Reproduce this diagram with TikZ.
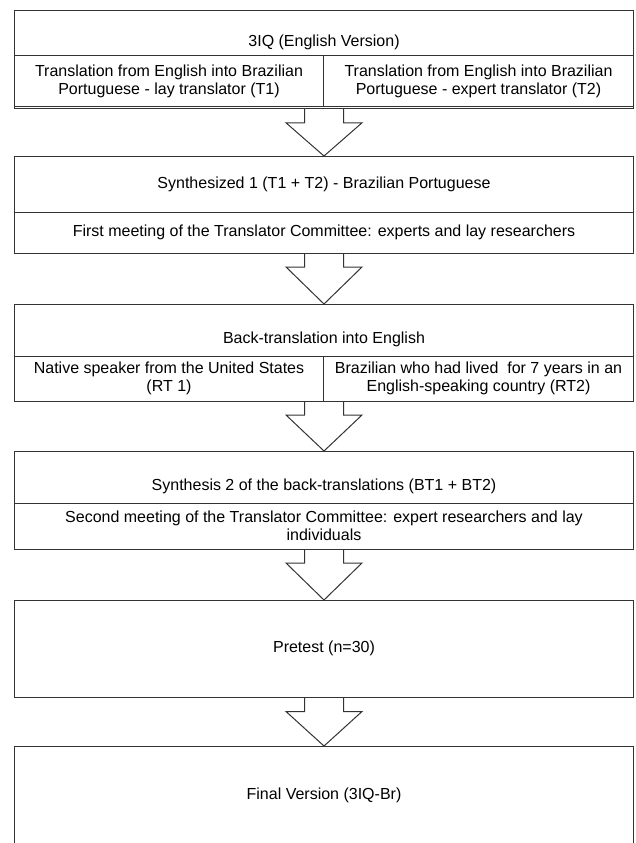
\documentclass[tikz,border=0pt]{standalone}
\usepackage{fontspec}
\setmainfont{Liberation Sans}
\usetikzlibrary{calc}
\usetikzlibrary{positioning}
\tikzset{stagebox/.style = {draw=black!80, line width=1pt, rectangle, inner sep=0pt, outer sep=0pt, minimum width=619pt, align=center, font=\fontsize{16pt}{17.5pt}\selectfont}}
\tikzset{cellbox/.style = {stagebox, minimum width=309pt}}
\tikzset{lowtext/.style = {text height=30pt, text depth=4pt}}
\tikzset{arrowline/.style = {draw=black!80, line width=1pt, line join=miter}}
\newcommand{\flowarrow}[2]{%
  \draw[arrowline] ($(#2.north |- #1)+(-19.5,0)$) -- ++(0,14) -- ++(-18.5,0)
    -- (#2.north) -- ($(#2.north |- #1)+(38,14)$) -- ++(-18.5,0) -- ++(0,-14);}

\begin{document}
\begin{tikzpicture}[x=1pt,y=-1pt]
        \useasboundingbox (0,0) rectangle (635,843);
        \node [stagebox, lowtext, anchor=north, minimum height=45.5pt] (engl) at (324,10.5) {3IQ (English Version)};
        \node [cellbox, anchor=north west, minimum height=50.5pt] (tr1) at (engl.south west) {Translation from English into Brazilian\\Portuguese - lay translator (T1)};
        \node [cellbox, anchor=north west, minimum width=310pt, minimum height=50.5pt] (tr2) at (tr1.north east) {Translation from English into Brazilian\\Portuguese - expert translator (T2)};
        \coordinate (engl-end) at ($(tr2.south)+(0,2.3)$);
        \draw [arrowline] (engl.north west) rectangle (tr2.south east |- engl-end);

        \node [stagebox, anchor=north, minimum height=56pt] (syn1) at (324,156) {Synthesized 1 (T1 + T2) - Brazilian Portuguese};
        \node [stagebox, anchor=north, minimum height=41pt] (meet1) at (syn1.south) {First meeting of the Translator Committee: experts and lay researchers};

        \node [stagebox, lowtext, anchor=north, minimum height=52pt] (back) at (324,304) {Back-translation into English};
        \node [cellbox, anchor=north west, minimum height=45pt] (rt1) at (back.south west) {Native speaker from the United States\\(RT 1)};
        \node [cellbox, anchor=north west, minimum width=310pt, minimum height=45pt] (rt2) at (rt1.north east) {Brazilian who had lived\ \ for 7 years in an\\English-speaking country (RT2)};

        \node [stagebox, lowtext, anchor=north, minimum height=52pt] (syn2) at (324,451) {Synthesis 2 of the back-translations (BT1 + BT2)};
        \node [stagebox, anchor=north, minimum height=46pt] (meet2) at (syn2.south) {Second meeting of the Translator Committee: expert researchers and lay\\individuals};

        \node [stagebox, anchor=north, minimum height=97.5pt] (pre) at (324,600) {Pretest (n=30)};
        \node [stagebox, anchor=north, minimum height=99pt] (final) at (324,746) {Final Version (3IQ-Br)};

        \flowarrow{engl-end}{syn1}
        \flowarrow{meet1.south}{back}
        \flowarrow{rt2.south}{syn2}
        \flowarrow{meet2.south}{pre}
        \flowarrow{pre.south}{final}
\end{tikzpicture}
\end{document}
